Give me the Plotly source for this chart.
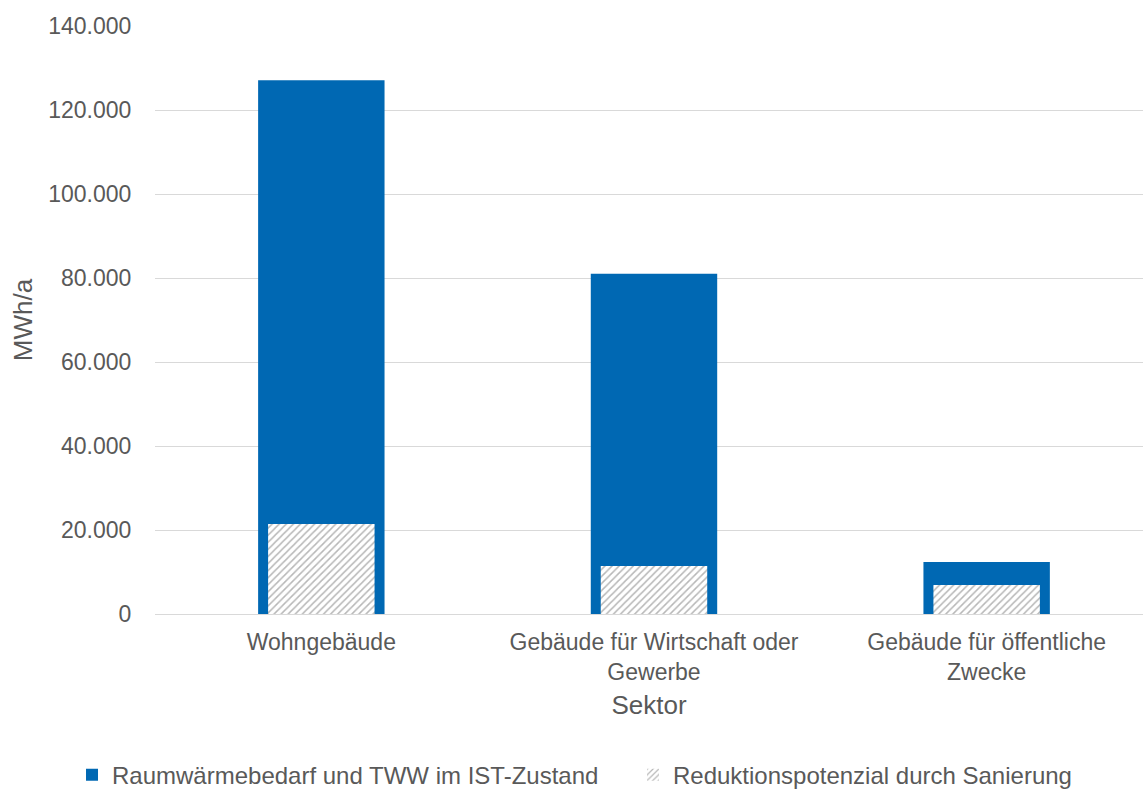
import plotly.graph_objects as go

categories = ["Wohngebäude", "Gebäude für Wirtschaft oder<br>Gewerbe", "Gebäude für öffentliche<br>Zwecke"]
ist_zustand = [127100, 81000, 12400]
reduktion = [21400, 11400, 6900]
y_ticks = [0, 20000, 40000, 60000, 80000, 100000, 120000, 140000]

blue = "#0068B3"
grey_text = "#595959"
font_family = "Liberation Sans, Arial, sans-serif"

fig = go.Figure()
fig.add_trace(go.Bar(
    x=categories, y=ist_zustand, name="Raumwärmebedarf und TWW im IST-Zustand",
    marker=dict(color=blue, line=dict(width=0)), width=0.38, legend="legend",
))
fig.add_trace(go.Bar(
    x=categories, y=reduktion, name="Reduktionspotenzial durch Sanierung",
    marker=dict(color="white", line=dict(width=0),
                pattern=dict(shape="/", fgcolor="#707070", bgcolor="white", size=5, solidity=0.3)),
    width=0.32, legend="legend2",
))

leg_common = dict(orientation="h", yanchor="middle", y=-0.274, xanchor="left",
                  font=dict(size=24, color=grey_text), itemwidth=30, bgcolor="rgba(0,0,0,0)")

fig.update_layout(
    width=1143, height=790,
    barmode="overlay",
    separators=",.",
    plot_bgcolor="white", paper_bgcolor="white",
    margin=dict(l=155, r=0, t=26, b=176, autoexpand=False),
    font=dict(family=font_family, size=24, color=grey_text),
    xaxis=dict(
        range=[-0.5, 2.47], showline=True, linecolor="#d9d9d9", linewidth=1,
        ticks="", ticklabelstandoff=7, tickfont=dict(size=23, color=grey_text), automargin=False,
        title=dict(text="Sektor", font=dict(size=26, color=grey_text), standoff=12),
    ),
    yaxis=dict(
        range=[0, 140000], tickvals=y_ticks, tickformat=",.0f",
        showgrid=True, gridcolor="#d9d9d9", gridwidth=1, zeroline=False,
        ticks="outside", ticklen=18, tickcolor="white", automargin=False,
        tickfont=dict(size=23, color=grey_text),
        title=dict(text="MWh/a", font=dict(size=26, color=grey_text), standoff=8),
    ),
    legend=dict(x=-0.084, **leg_common),
    legend2=dict(x=0.4838, **leg_common),
    showlegend=True,
)

fig.write_html("out.html", config={"displayModeBar": False},
               post_script="document.body.style.margin='0';")
